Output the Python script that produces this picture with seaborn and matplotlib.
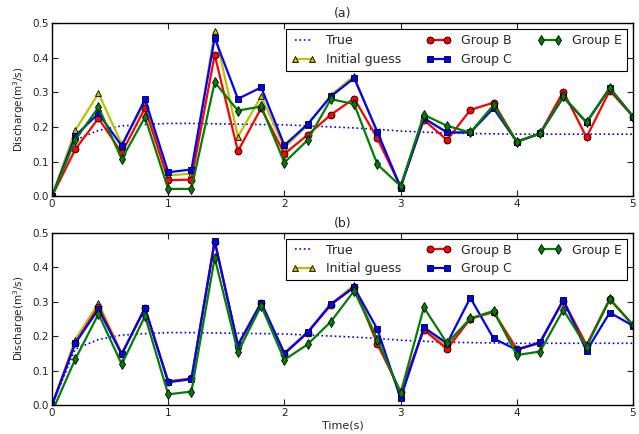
import matplotlib
matplotlib.use("Agg")
import matplotlib.pyplot as plt
import seaborn as sns
import pandas as pd

sns.set_style("ticks")
plt.rcParams.update({
    "font.family": ["DejaVu Sans"],
    "xtick.direction": "in",
    "ytick.direction": "in",
    "xtick.top": True,
    "ytick.right": True,
    "xtick.major.size": 4,
    "ytick.major.size": 4,
    "axes.edgecolor": "black",
    "axes.linewidth": 1.0,
    "xtick.color": "#222222",
    "ytick.color": "#222222",
})

times = [0.0, 0.2, 0.4, 0.6, 0.8, 1.0, 1.2, 1.4, 1.6, 1.8, 2.0, 2.2, 2.4,
         2.6, 2.8, 3.0, 3.2, 3.4, 3.6, 3.8, 4.0, 4.2, 4.4, 4.6, 4.8, 5.0]

true_vals = [0.0, 0.162, 0.19, 0.203, 0.207, 0.21, 0.21, 0.209, 0.208, 0.207,
             0.206, 0.203, 0.2, 0.197, 0.193, 0.188, 0.185, 0.182, 0.181,
             0.18, 0.179, 0.179, 0.179, 0.179, 0.179, 0.179]

# panel (a)
init_a = [0.0, 0.19, 0.297, 0.15, 0.27, 0.06, 0.065, 0.476, 0.172, 0.288, 0.14,
          0.205, 0.292, 0.347, 0.18, 0.028, 0.225, 0.184, 0.184, 0.254, 0.157,
          0.181, 0.286, 0.213, 0.312, 0.23]
grpB_a = [0.0, 0.135, 0.225, 0.125, 0.254, 0.046, 0.048, 0.408, 0.13, 0.254, 0.122,
          0.177, 0.235, 0.282, 0.167, 0.027, 0.22, 0.162, 0.249, 0.27, 0.157,
          0.181, 0.302, 0.17, 0.305, 0.23]
grpC_a = [0.0, 0.174, 0.239, 0.145, 0.28, 0.069, 0.077, 0.457, 0.281, 0.314, 0.147,
          0.208, 0.288, 0.341, 0.186, 0.025, 0.225, 0.184, 0.184, 0.254, 0.157,
          0.181, 0.286, 0.213, 0.312, 0.23]
grpE_a = [0.0, 0.162, 0.257, 0.107, 0.228, 0.021, 0.021, 0.329, 0.247, 0.259, 0.097,
          0.162, 0.28, 0.266, 0.092, 0.029, 0.235, 0.203, 0.184, 0.263, 0.157,
          0.181, 0.288, 0.213, 0.312, 0.23]

# panel (b)
init_b = [0.0, 0.19, 0.295, 0.15, 0.28, 0.07, 0.075, 0.476, 0.17, 0.295, 0.15,
          0.21, 0.293, 0.348, 0.19, 0.03, 0.22, 0.17, 0.25, 0.27, 0.16,
          0.18, 0.303, 0.17, 0.307, 0.232]
grpB_b = [0.0, 0.18, 0.285, 0.148, 0.28, 0.068, 0.077, 0.474, 0.174, 0.295, 0.148,
          0.21, 0.29, 0.343, 0.177, 0.039, 0.218, 0.162, 0.25, 0.27, 0.162,
          0.18, 0.303, 0.174, 0.307, 0.232]
grpC_b = [0.0, 0.179, 0.278, 0.147, 0.282, 0.066, 0.075, 0.476, 0.174, 0.297, 0.15,
          0.211, 0.293, 0.341, 0.22, 0.019, 0.225, 0.179, 0.311, 0.193, 0.16,
          0.182, 0.305, 0.157, 0.268, 0.23]
grpE_b = [-0.02, 0.133, 0.264, 0.118, 0.258, 0.031, 0.039, 0.427, 0.153, 0.288, 0.131,
          0.176, 0.242, 0.331, 0.19, 0.034, 0.283, 0.179, 0.251, 0.273, 0.145,
          0.155, 0.276, 0.169, 0.307, 0.232]

x_ticks = [0, 1, 2, 3, 4, 5]
y_ticks = [0.0, 0.1, 0.2, 0.3, 0.4, 0.5]
x_ticklabels = ["0", "1", "2", "3", "4", "5"]
y_ticklabels = ["0.0", "0.1", "0.2", "0.3", "0.4", "0.5"]

styles = [
    ("Initial guess", "#bfbf00", "^"),
    ("Group B", "red", "o"),
    ("Group C", "blue", "s"),
    ("Group E", "green", "d"),
]

fig = plt.figure(figsize=(6.39, 4.34), dpi=100)
ax_a = fig.add_axes([0.0814, 0.548, 0.9092, 0.399])
ax_b = fig.add_axes([0.0814, 0.0668, 0.9092, 0.3972])

panels = [
    (ax_a, "(a)", [init_a, grpB_a, grpC_a, grpE_a]),
    (ax_b, "(b)", [init_b, grpB_b, grpC_b, grpE_b]),
]

for ax, title, series in panels:
    sns.lineplot(x=times, y=true_vals, ax=ax, color="blue", linestyle=":",
                 linewidth=1.2, label="True")
    for (name, col, mk), vals in zip(styles, series):
        ms = 5.5 if mk == "d" else 5
        sns.lineplot(x=times, y=vals, ax=ax, color=col, marker=mk,
                     markersize=ms, markeredgecolor="black",
                     markeredgewidth=0.6, linewidth=1.6, label=name)
    ax.set_xlim(0, 5)
    ax.set_ylim(0, 0.5)
    ax.set_xticks(x_ticks)
    ax.set_xticklabels(x_ticklabels, fontsize=7.5)
    ax.set_yticks(y_ticks)
    ax.set_yticklabels(y_ticklabels, fontsize=7.5)
    ax.tick_params(pad=2)
    ax.set_title(title, fontsize=9, pad=4)
    ax.set_ylabel("Discharge(m$^3$/s)", fontsize=7.5, labelpad=4)
    ax.set_xlabel("")
    leg = ax.legend(loc="upper right", ncol=3, fontsize=9, numpoints=2,
                    fancybox=False, framealpha=1, edgecolor="black",
                    handlelength=2.0, columnspacing=2.0, labelspacing=0.45,
                    borderaxespad=0.5)
    leg.get_frame().set_linewidth(0.8)

ax_b.set_xlabel("Time(s)", fontsize=8, labelpad=2)

fig.savefig("out.png", dpi=100)
